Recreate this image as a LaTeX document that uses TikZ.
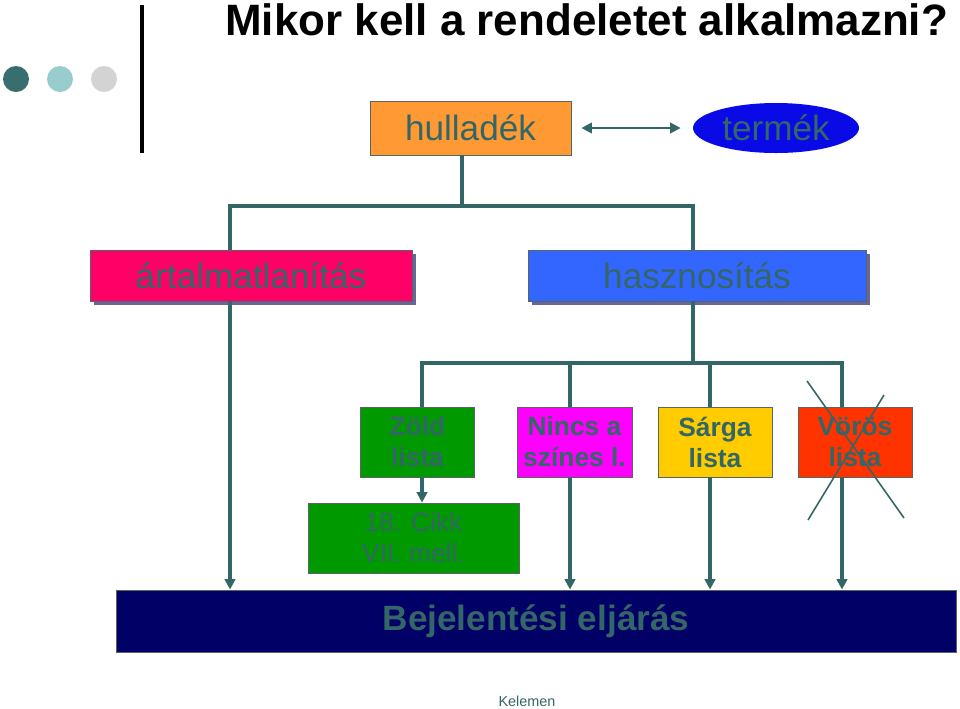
\documentclass[tikz,border=0pt]{standalone}
\usepackage{fontspec}
\setmainfont{Liberation Sans}
\usetikzlibrary{shapes.geometric,arrows.meta,shadows}
\definecolor{tealtext}{RGB}{51,102,102}
\definecolor{boxline}{RGB}{90,100,100}
\definecolor{shadowcol}{RGB}{102,102,153}
\definecolor{orangebox}{RGB}{255,153,51}
\definecolor{bluell}{RGB}{10,10,230}
\definecolor{pinkbox}{RGB}{255,0,102}
\definecolor{bluebox}{RGB}{51,102,255}
\definecolor{greenbox}{RGB}{0,153,0}
\definecolor{magbox}{RGB}{255,0,255}
\definecolor{yellowbox}{RGB}{255,204,0}
\definecolor{redbox}{RGB}{255,51,0}
\definecolor{navybox}{RGB}{0,0,102}
\definecolor{dotone}{RGB}{56,110,110}
\definecolor{dottwo}{RGB}{153,204,204}
\definecolor{dotthree}{RGB}{211,211,211}
\begin{document}
\begin{tikzpicture}[y=-1cm,
  box/.style={draw=boxline,line width=0.5pt,inner sep=0pt,text=tealtext,align=center},
  big/.style={box,font=\fontsize{20}{24}\selectfont,
    drop shadow={shadow xshift=0.07cm,shadow yshift=-0.07cm,fill=shadowcol,opacity=1}},
  list/.style={box,font=\fontsize{15}{17.6}\selectfont\bfseries,minimum width=2.28cm,minimum height=1.4cm},
  conn/.style={draw=tealtext,line width=1.8pt},
  arr/.style={conn,-{Triangle[length=6pt,width=6pt]}}]
\useasboundingbox (0,0) rectangle (19.2,14.16);
% header
\fill[dotone] (0.32,1.58) circle [radius=0.26];
\fill[dottwo] (1.20,1.58) circle [radius=0.26];
\fill[dotthree] (2.08,1.58) circle [radius=0.26];
\fill[black] (2.80,0.10) rectangle (2.88,3.06);
\node[anchor=base west,inner sep=0pt,font=\fontsize{25}{30}\selectfont\bfseries] (title) at (4.50,0.70) {Mikor kell a rendeletet alkalmazni?};
% top row
\node[box,fill=orangebox,font=\fontsize{20}{24}\selectfont,minimum width=4.02cm,minimum height=1.08cm] (hulladek) at (9.41,2.56) {hullad\'ek};
\node[ellipse,fill=bluell,text=tealtext,inner sep=0pt,font=\fontsize{20}{24}\selectfont,minimum width=3.32cm,minimum height=1.0cm] (termek) at (15.52,2.56) {term\'ek};
\draw[draw=tealtext,line width=1.3pt,{Triangle[length=6pt,width=6pt]}-{Triangle[length=6pt,width=6pt]}] ([xshift=0.2cm]hulladek.east) -- ([xshift=-0.24cm]termek.west);
% second row
\node[big,fill=pinkbox,minimum width=6.44cm,minimum height=1.02cm] (artalm) at (5.02,5.51) {\'artalmatlan\'it\'as};
\node[big,fill=bluebox,minimum width=6.76cm,minimum height=1.02cm] (haszn) at (13.94,5.51) {hasznos\'it\'as};
% lists
\node[list,fill=greenbox] (zold) at (8.35,8.84) {Z\"old\\lista};
\node[list,fill=magbox,minimum width=2.30cm] (nincs) at (11.49,8.84) {Nincs a\\sz\'ines l.};
\node[list,fill=yellowbox] (sarga) at (14.30,8.84) {S\'arga\\lista};
\node[list,fill=redbox] (voros) at (17.10,8.84) {V\"or\"os\\lista};
\draw[draw=tealtext,line width=0.9pt] (16.14,7.62) -- (18.08,10.36);
\draw[draw=tealtext,line width=0.9pt] (17.68,7.90) -- (16.16,10.40);
\node[list,fill=greenbox,font=\fontsize{15}{17.6}\selectfont,minimum width=4.22cm] (cikk) at (8.27,10.76) {18. Cikk\\VII. mell.};
\node[box,fill=navybox,font=\fontsize{20}{24}\selectfont\bfseries,minimum width=16.80cm,minimum height=1.24cm] (bejel) at (10.72,12.42) {\raisebox{-2pt}{Bejelent\'esi elj\'ar\'as}};
\node[text=tealtext,inner sep=0pt,font=\fontsize{8.2}{10}\selectfont] (kelemen) at (10.54,14.02) {Kelemen};
% connectors
\coordinate (hb) at (9.24,4.12);
\coordinate (j1) at (4.60,4.12);
\coordinate (j2) at (13.86,4.12);
\draw[conn] (hulladek.south -| hb) -- (hb);
\draw[conn] (artalm.north -| j1) |- (j2) -- (haszn.north -| j2);
\draw[arr] (artalm.south -| j1) -- (bejel.north -| j1);
\coordinate (k0) at (13.86,7.26);
\coordinate (k1) at (8.44,7.26);
\coordinate (k2) at (11.40,7.26);
\coordinate (k3) at (14.20,7.26);
\coordinate (k4) at (16.84,7.26);
\draw[conn] (haszn.south -| k0) -- (k0);
\draw[conn] (zold.north -| k1) |- (k4) -- (voros.north -| k4);
\draw[conn] (k2) -- (nincs.north -| k2);
\draw[conn] (k3) -- (sarga.north -| k3);
\draw[arr] (zold.south -| k1) -- (cikk.north -| k1);
\draw[arr] (nincs.south -| k2) -- (bejel.north -| k2);
\draw[arr] (sarga.south -| k3) -- (bejel.north -| k3);
\draw[arr] (voros.south -| k4) -- (bejel.north -| k4);
\end{tikzpicture}
\end{document}
